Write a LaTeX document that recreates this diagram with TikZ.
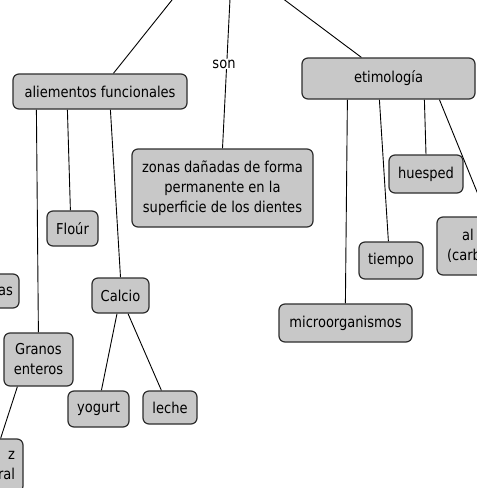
\documentclass[tikz,border=0pt]{standalone}
\usepackage{fontspec}
\setmainfont{DejaVu Sans}[FakeStretch=0.87]
\usepackage{tikz}
\pgfdeclarelayer{bg}
\pgfsetlayers{bg,main}
\definecolor{boxgray}{RGB}{200,200,200}
\definecolor{boxline}{RGB}{45,45,45}
\tikzset{
  concept/.style={draw=boxline, fill=boxgray, line width=1.2pt, rounded corners=6pt,
    inner sep=0pt, align=center, font=\fontsize{15}{20}\selectfont},
  link/.style={draw=black, line width=0.9pt},
}

\begin{document}
\begin{tikzpicture}[x=1pt, y=-1pt]
        \useasboundingbox (0,0) rectangle (477,488);
        \clip (0,0) rectangle (477,488);
        \coordinate (t1) at (176,-5);
        \coordinate (t2) at (230.2,-5);
        \coordinate (t3) at (278,-5);
        \node (alim) [concept, minimum width=174pt, minimum height=35pt] at (100,91.5) {aliementos funcionales};
        \node (etim) [concept, minimum width=173pt, minimum height=41pt] at (388.5,78.5) {etimología};
        \node (zonas) [concept, minimum width=181pt, minimum height=78pt] at (222.5,188) {zonas dañadas de forma\\permanente en la\\superficie de los dientes};
        \node (flour) [concept, minimum width=51pt, minimum height=35pt] at (72.5,228.5) {Floúr};
        \node (calcio) [concept, minimum width=57pt, minimum height=35pt] at (120.5,295.5) {Calcio};
        \node (granos) [concept, minimum width=69pt, minimum height=53pt] at (38.5,359.5) {Granos\\enteros};
        \node (yogurt) [concept, minimum width=61pt, minimum height=36pt] at (98.5,409) {yogurt};
        \node (leche) [concept, minimum width=54pt, minimum height=33pt] at (170,407.5) {leche};
        \node (huesped) [concept, minimum width=74pt, minimum height=38pt] at (426,174) {huesped};
        \node (tiempo) [concept, minimum width=64pt, minimum height=37pt] at (391,260.5) {tiempo};
        \node (micro) [concept, minimum width=133pt, minimum height=38pt] at (345.5,323) {microorganismos};
        \node (carb) [concept, minimum width=100pt, minimum height=58pt, text width=80pt, align=left] at (487,246) {\hspace*{15pt}al\\(carb};
        \node (as) [concept, minimum width=80pt, minimum height=34pt, text width=68pt, align=right] at (-21,291) {as};
        \node (arroz) [concept, minimum width=70pt, minimum height=53pt, text width=54pt, align=right] at (-12,465.5) {z\hspace*{8pt}\\ral};
        \node (son) [fill=white, inner sep=1pt, font=\fontsize{15}{20}\selectfont] at (224,64) {son};
        \begin{pgfonlayer}{bg}
                \draw [link] (t1) edge ([xshift=101pt]alim.north west);
                \draw [link] (t2) edge (zonas.north);
                \draw [link] (t3) edge ([xshift=60pt]etim.north west);
                \draw [link] ([xshift=24pt]alim.south west) edge ([xshift=35pt]granos.north west);
                \draw [link] ([xshift=55pt]alim.south west) edge ([xshift=24pt]flour.north west);
                \draw [link] ([xshift=98pt]alim.south west) edge (calcio.north);
                \draw [link] ([xshift=-3.5pt]calcio.south) edge ([xshift=34pt]yogurt.north west);
                \draw [link] ([xshift=7.5pt]calcio.south) edge ([xshift=19pt]leche.north west);
                \draw [link] ([xshift=14pt]granos.south west) edge ([xshift=-23pt]arroz.north east);
                \draw [link] ([xshift=46pt]etim.south west) edge ([xshift=67pt]micro.north west);
                \draw [link] ([xshift=78pt]etim.south west) edge ([xshift=30pt]tiempo.north west);
                \draw [link] ([xshift=123pt]etim.south west) edge (huesped.north);
                \draw [link] ([xshift=138pt]etim.south west) edge (carb.north);
        \end{pgfonlayer}
\end{tikzpicture}
\end{document}
